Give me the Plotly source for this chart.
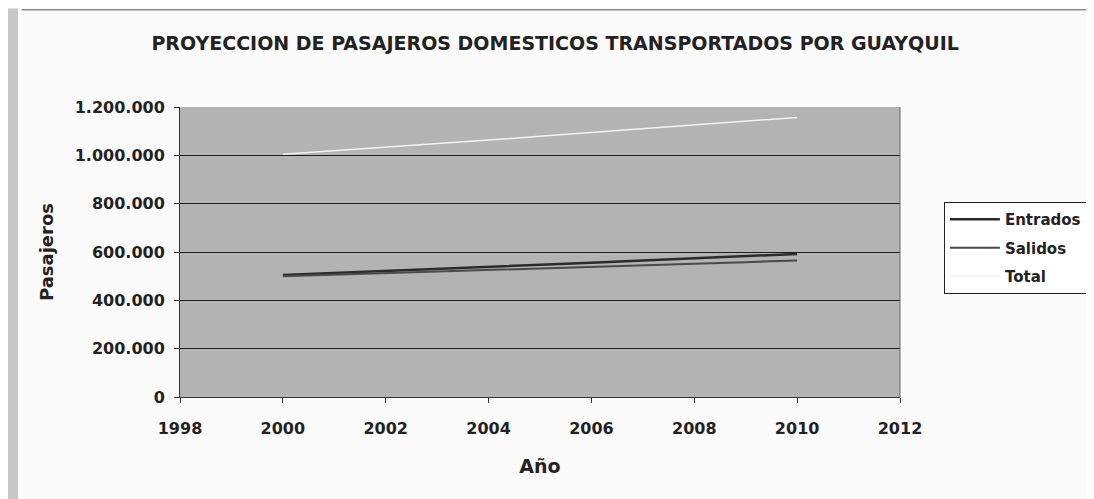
import plotly.graph_objects as go

# Datos (proyeccion 2000-2010)
anios = [2000, 2001, 2002, 2003, 2004, 2005, 2006, 2007, 2008, 2009, 2010]
entrados = [505000, 513000, 521000, 530000, 538000, 547000, 556000, 565000, 574000, 583000, 592000]
salidos = [500000, 506000, 512000, 519000, 525000, 532000, 538000, 545000, 551000, 558000, 565000]
total = [1005000, 1019000, 1033000, 1049000, 1063000, 1079000, 1094000, 1110000, 1125000, 1141000, 1157000]

y_ticks = [0, 200000, 400000, 600000, 800000, 1000000, 1200000]
y_labels = ["0", "200.000", "400.000", "600.000", "800.000", "1.000.000", "1.200.000"]
x_ticks = [1998, 2000, 2002, 2004, 2006, 2008, 2010, 2012]

fuente = "DejaVu Sans, Arial, sans-serif"

fig = go.Figure()

fig.add_trace(go.Scatter(x=anios, y=entrados, name="<b>Entrados</b>", mode="lines",
                         legendgroup="e", line=dict(color="#2b2b2b", width=2.5)))
fig.add_trace(go.Scatter(x=anios, y=salidos, name="<b>Salidos</b>", mode="lines",
                         legendgroup="s", line=dict(color="#4a4a4a", width=2)))
fig.add_trace(go.Scatter(x=anios, y=total, name="<b>Total</b>", mode="lines",
                         legendgroup="t", line=dict(color="#f2f2f2", width=1.5)))

fig.update_layout(
    width=1094, height=499,
    paper_bgcolor="#fbfbfb",
    plot_bgcolor="#b3b3b3",
    margin=dict(l=172, r=202, t=99, b=110),
    font=dict(family=fuente, size=15, color="#222222"),
    title=dict(text="<b>PROYECCION DE PASAJEROS DOMESTICOS TRANSPORTADOS POR GUAYQUIL</b>",
               x=0.521, xref="paper", xanchor="center", y=0.93, yanchor="middle",
               font=dict(family=fuente, size=19, color="#222222")),
    showlegend=True,
    legend=dict(x=1.061, xanchor="left", y=0.672, yanchor="top",
                bgcolor="#ffffff", bordercolor="#222222", borderwidth=1,
                font=dict(family=fuente, size=15, color="#222222"),
                traceorder="grouped", tracegroupgap=6, itemwidth=50),
)

fig.update_xaxes(
    range=[1998, 2012], tickvals=x_ticks, ticktext=[f"<b>{t}</b>" for t in x_ticks],
    tickfont=dict(size=16),
    showgrid=False, zeroline=False,
    showline=True, linecolor="#333333", linewidth=1, mirror=False,
    ticks="outside", ticklen=5, tickcolor="#333333", ticklabelstandoff=12,
    title=dict(text="<b>Año</b>", standoff=22, font=dict(size=19)),
)
fig.update_yaxes(
    range=[0, 1200000], tickvals=y_ticks, ticktext=[f"<b>{t}</b>" for t in y_labels],
    tickfont=dict(size=16),
    showgrid=True, gridcolor="#1e1e1e", gridwidth=1, zeroline=False,
    showline=True, linecolor="#333333", linewidth=1,
    ticks="outside", ticklen=5, tickcolor="#333333", ticklabelstandoff=6,
    title=dict(text="<b>Pasajeros</b>", standoff=16, font=dict(size=18)),
)

# borde derecho del area de trazado y linea superior del escaneo
fig.add_shape(type="line", xref="paper", yref="paper", x0=1, x1=1, y0=0, y1=1,
              line=dict(color="#666666", width=1))
fig.add_shape(type="line", xref="paper", yref="paper", x0=-0.22, x1=1.29, y0=1.335, y1=1.335,
              line=dict(color="#555555", width=1))
# franja gris del borde izquierdo del escaneo
fig.add_shape(type="rect", xref="paper", yref="paper", x0=-0.239, x1=-0.225, y0=-0.4, y1=1.34,
              fillcolor="#c8c8c8", line=dict(width=0), layer="below")

fig.write_html("out.html")
